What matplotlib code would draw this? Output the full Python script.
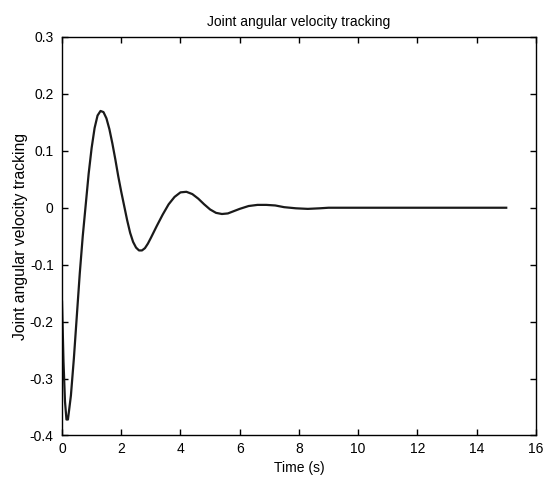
import matplotlib
matplotlib.use('Agg')
import matplotlib.pyplot as plt

# values
time = [0.0, 0.05, 0.1, 0.15, 0.2, 0.3, 0.4, 0.5, 0.6, 0.7, 0.8, 0.9, 1.0, 1.1,
        1.2, 1.3, 1.4, 1.5, 1.6, 1.7, 1.8, 1.9, 2.0, 2.1, 2.2, 2.3, 2.4, 2.5,
        2.6, 2.7, 2.8, 2.9, 3.0, 3.2, 3.4, 3.6, 3.8, 4.0, 4.2, 4.4, 4.6, 4.8,
        5.0, 5.2, 5.4, 5.6, 5.8, 6.0, 6.3, 6.6, 6.9, 7.2, 7.5, 7.9, 8.3, 8.7,
        9.0, 15.0]
velocity = [-0.165, -0.27, -0.34, -0.372, -0.372, -0.33, -0.265, -0.19, -0.115,
            -0.05, 0.005, 0.06, 0.105, 0.14, 0.162, 0.170, 0.168, 0.157, 0.138,
            0.113, 0.085, 0.055, 0.028, 0.003, -0.022, -0.044, -0.060, -0.070,
            -0.075, -0.075, -0.071, -0.063, -0.053, -0.032, -0.012, 0.006,
            0.019, 0.027, 0.028, 0.024, 0.016, 0.006, -0.003, -0.009, -0.011,
            -0.010, -0.006, -0.002, 0.003, 0.005, 0.005, 0.004, 0.001, -0.001,
            -0.002, -0.001, 0.0, 0.0]

xticks = [0, 2, 4, 6, 8, 10, 12, 14, 16]
yticks = [-0.4, -0.3, -0.2, -0.1, 0, 0.1, 0.2, 0.3]
ytick_labels = ['-0.4', '-0.3', '-0.2', '-0.1', '0', '0.1', '0.2', '0.3']

plt.rcParams['font.family'] = ['Liberation Sans', 'DejaVu Sans']
plt.rcParams['axes.unicode_minus'] = False

fig = plt.figure(figsize=(5.44, 4.78), dpi=100)
ax = fig.add_axes([0.114, 0.089, 0.871, 0.8337])
ax.plot(time, velocity, color='#1a1a1a', linewidth=1.6)

ax.set_xlim(0, 16)
ax.set_ylim(-0.4, 0.3)
ax.set_xticks(xticks)
ax.set_yticks(yticks)
ax.set_yticklabels(ytick_labels)
ax.tick_params(direction='in', length=4, width=1, top=True, right=True,
               labelsize=10, colors='black')
ax.tick_params(axis='x', pad=5)
ax.tick_params(axis='y', pad=6)
for s in ax.spines.values():
    s.set_linewidth(1.0)

ax.set_xlabel('Time (s)', fontsize=10, labelpad=3)
ax.set_ylabel('Joint angular velocity tracking', fontsize=11.3, labelpad=1)
ax.set_title('Joint angular velocity tracking', fontsize=10, pad=8)

fig.savefig('out.png', dpi=100)
